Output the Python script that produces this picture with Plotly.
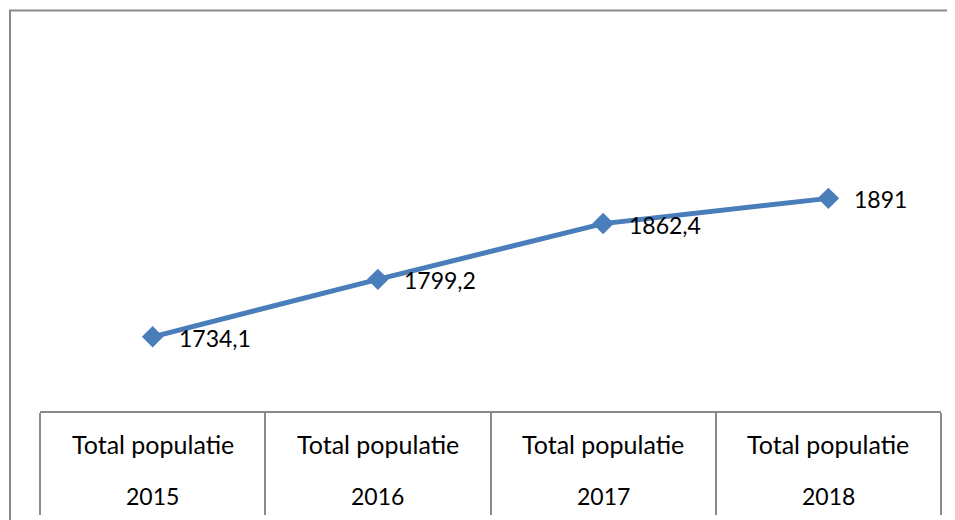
import plotly.graph_objects as go

years = ["2015", "2016", "2017", "2018"]
label_prefix = "Total populatie"
values = [1734.1, 1799.2, 1862.4, 1891]
value_labels = [f"{v:g}".replace(".", ",") for v in values]

W, H = 955, 520
OFF = 8  # page body margin offset of the plot div
FONT = "Lato, Calibri, 'Liberation Sans', sans-serif"
LINE_COLOR = "#4a7ebb"
GRID_GREY = "#8a8a8a"
FS = 23

def px_x(p):
    return (p - OFF) / W

def px_y(p):
    return (H - (p - OFF)) / H

fig = go.Figure()
fig.add_trace(go.Scatter(
    x=list(range(len(years))), y=values,
    mode="lines+markers",
    line=dict(color=LINE_COLOR, width=5),
    marker=dict(symbol="diamond", size=16.5, color=LINE_COLOR),
    showlegend=False,
))

# data labels to the right of each point
for i, (v, lab) in enumerate(zip(values, value_labels)):
    fig.add_annotation(x=i, y=v, xref="x", yref="y", text=lab,
                       showarrow=False, xanchor="left", yanchor="middle",
                       xshift=24, yshift=-1,
                       font=dict(family=FONT, size=FS, color="#000000"))

fig.update_layout(
    width=W, height=H,
    margin=dict(l=0, r=0, t=0, b=0),
    paper_bgcolor="white", plot_bgcolor="white",
    xaxis=dict(
        type="linear",
        domain=[px_x(40), px_x(941)],
        range=[-0.5, 3.5],
        showline=True, linecolor=GRID_GREY, linewidth=1.5,
        ticks="outside", tickmode="array",
        tickvals=[-0.5, 0.5, 1.5, 2.5, 3.5], ticklen=102,
        tickcolor=GRID_GREY, tickwidth=1.5,
        showticklabels=False, showgrid=False, zeroline=False,
        fixedrange=True,
    ),
    yaxis=dict(
        domain=[px_y(411), px_y(102.2)],
        range=[1650, 2000],
        visible=False, showgrid=False, zeroline=False,
    ),
)

# category labels (two lines, Excel table-style axis)
for i, yr in enumerate(years):
    fig.add_annotation(x=i, xref="x", y=px_y(444), yref="paper",
                       text=label_prefix, showarrow=False, yanchor="middle",
                       font=dict(family=FONT, size=25, color="#000000"))
    fig.add_annotation(x=i, xref="x", y=px_y(496), yref="paper",
                       text=yr, showarrow=False, yanchor="middle",
                       font=dict(family=FONT, size=FS, color="#000000"))

# outer chart border (cropped at right and bottom)
fig.add_shape(type="rect", xref="paper", yref="paper",
              x0=px_x(10), x1=1.05, y0=-0.05, y1=px_y(10.5),
              line=dict(color=GRID_GREY, width=2), layer="below")

fig.write_html("out.html")
